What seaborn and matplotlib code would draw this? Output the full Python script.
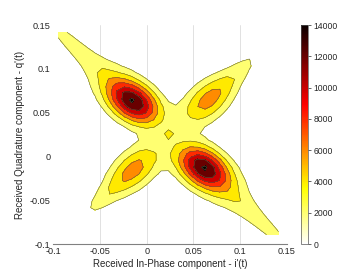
import numpy as np
import matplotlib
matplotlib.use("Agg")
import matplotlib.pyplot as plt
import seaborn as sns

# ---- data (density components of the 2-D histogram) ----
# each component: centre x, centre y, amplitude, sigma along axis, sigma across, axis angle (deg)
#              UL body  UL mid   UL tail  LR body  LR mid   LR tail  UR core  UR tail  LL core  LL tail  centre
comp_x     = [-0.0138, -0.0443, -0.0832,  0.0603,  0.0908,  0.1297,  0.0650,  0.0997, -0.0130, -0.0479,  0.0245]
comp_y     = [ 0.0618,  0.0926,  0.1315, -0.0124, -0.0432, -0.0821,  0.0635,  0.0981, -0.0140, -0.0489,  0.0250]
comp_amp   = [ 13500,   2500,    2700,    13500,   2500,    2700,    6700,    2300,    6700,    2300,    2300]
comp_sa    = [ 0.022,   0.030,   0.035,   0.022,   0.030,   0.035,   0.025,   0.025,   0.025,   0.025,   0.005]
comp_sp    = [ 0.0145,  0.016,   0.0065,  0.0145,  0.016,   0.0065,  0.014,   0.008,   0.014,   0.008,   0.005]
comp_ang   = [ 142,     136,     135,     142,     136,     135,     45,      45,      45,      45,      0]

x_range = [-0.0946, 0.1410]
y_range = [-0.0893, 0.1417]
levels = [2000, 4000, 6000, 8000, 10000, 12000, 14000]
cbar_ticks = [0, 2000, 4000, 6000, 8000, 10000, 12000, 14000]
x_ticks = [-0.1, -0.05, 0, 0.05, 0.1, 0.15]
y_ticks = [-0.1, -0.05, 0, 0.05, 0.1, 0.15]
x_ticklabels = ["-0.1", "-0.05", "0", "0.05", "0.1", "0.15"]
y_ticklabels = ["-0.1", "-0.05", "0", "0.05", "0.1", "0.15"]

sns.set_theme(style="white")
plt.rcParams["font.family"] = ["Liberation Sans", "DejaVu Sans"]

gx = np.linspace(x_range[0], x_range[1], 31)
gy = np.linspace(y_range[0], y_range[1], 31)
X, Y = np.meshgrid(gx, gy)
Z = np.zeros_like(X)
for cx, cy, a, sa, sp, ang in zip(comp_x, comp_y, comp_amp, comp_sa, comp_sp, comp_ang):
    t = np.deg2rad(ang)
    dx, dy = X - cx, Y - cy
    u = dx * np.cos(t) + dy * np.sin(t)
    v = -dx * np.sin(t) + dy * np.cos(t)
    Z += a * np.exp(-0.5 * ((u / sa) ** 2 + (v / sp) ** 2))

cmap = plt.get_cmap("hot_r")
norm = matplotlib.colors.Normalize(0, 14000)
fill_colors = [cmap(norm(l)) for l in levels]

fig = plt.figure(figsize=(3.6, 2.78), dpi=100)
ax = fig.add_axes([0.148, 0.122, 0.649, 0.788])
ax.contourf(X, Y, Z, levels=levels + [1e9], colors=fill_colors)
ax.contour(X, Y, Z, levels=levels, colors="#5a5a3c", linewidths=0.4)

ax.set_xlim(-0.1, 0.15)
ax.set_ylim(-0.1, 0.15)
ax.set_xticks(x_ticks)
ax.set_xticklabels(x_ticklabels)
ax.set_yticks(y_ticks)
ax.set_yticklabels(y_ticklabels)
ax.tick_params(labelsize=6.6, colors="#262626", length=0, pad=2)
for xv in x_ticks[1:-1]:
    ax.axvline(xv, color="#dcdcdc", lw=0.6, zorder=0)
for s in ["top", "right", "left"]:
    ax.spines[s].set_visible(False)
ax.spines["bottom"].set_color("#808080")
ax.spines["bottom"].set_linewidth(0.8)
ax.set_xlabel("Received In-Phase component - i'(t)", fontsize=7, color="#262626", labelpad=2)
ax.set_ylabel("Received Quadrature component - q'(t)", fontsize=7, color="#262626", labelpad=3)

cax = fig.add_axes([0.836, 0.122, 0.019, 0.788])
sm = matplotlib.cm.ScalarMappable(norm=norm, cmap=cmap)
cb = fig.colorbar(sm, cax=cax, ticks=cbar_ticks)
cb.ax.tick_params(labelsize=6.2, length=2, width=0.5, colors="#262626", pad=2)
cb.outline.set_linewidth(0.5)
cb.outline.set_edgecolor("#555555")

fig.savefig("out.png", dpi=100)
